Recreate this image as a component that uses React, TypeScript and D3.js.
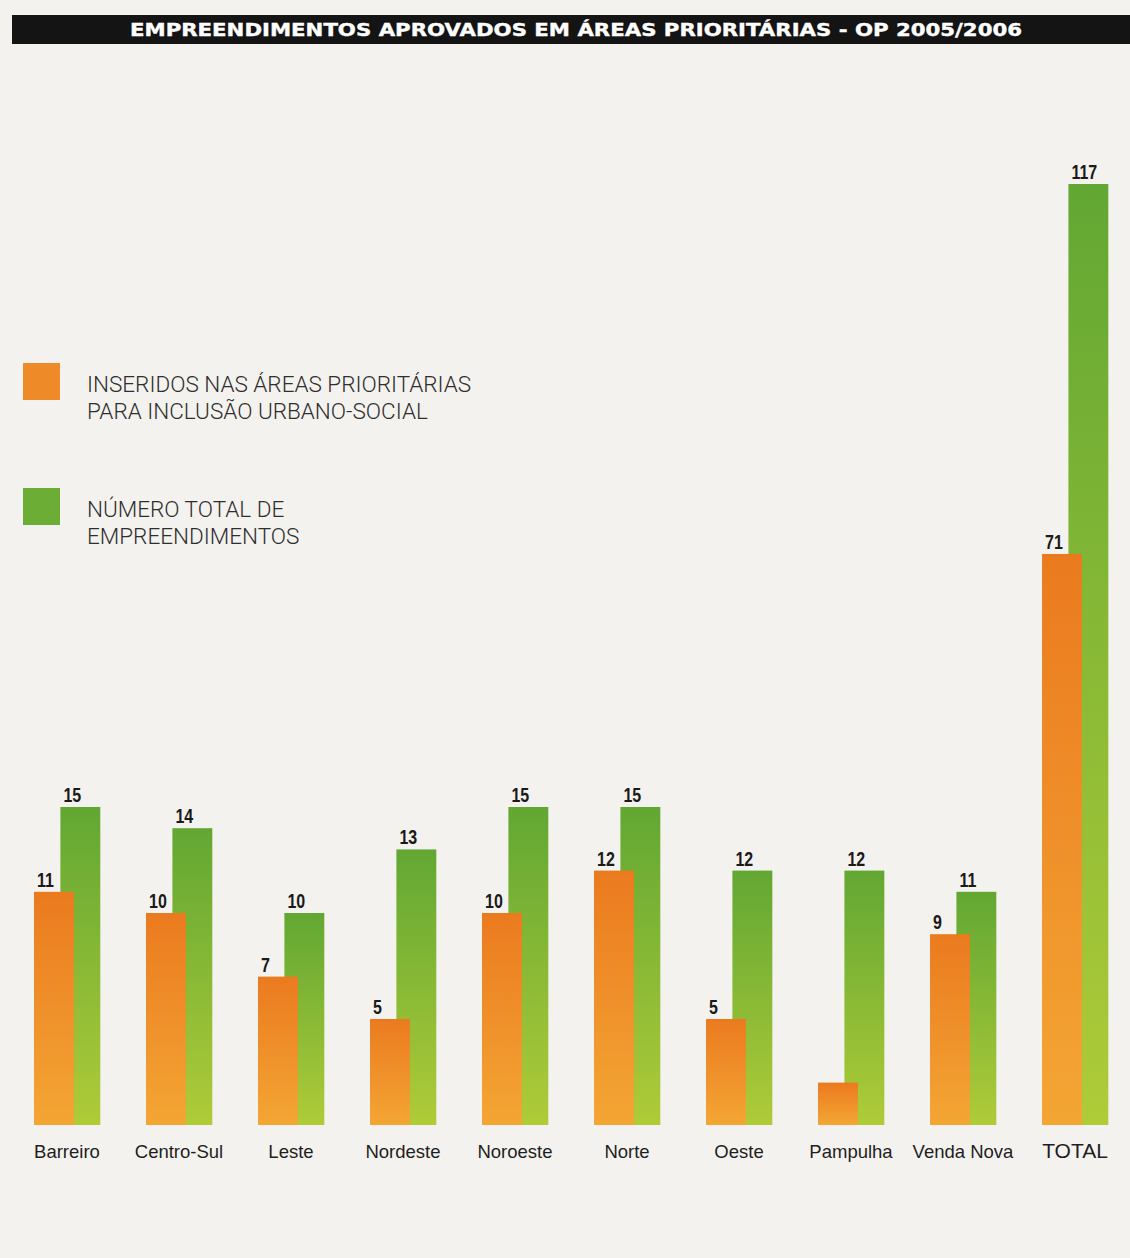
import React from "react";
import * as d3 from "d3";

const title = "EMPREENDIMENTOS APROVADOS EM ÁREAS PRIORITÁRIAS - OP 2005/2006";
const categories = ["Barreiro", "Centro-Sul", "Leste", "Nordeste", "Noroeste", "Norte", "Oeste", "Pampulha", "Venda Nova", "TOTAL"];
const prioritarias = [11, 10, 7, 5, 10, 12, 5, 2, 9, 71];
const totais = [15, 14, 10, 13, 15, 15, 12, 12, 11, 117];
const unlabeledPrioritarias = ["Pampulha"];
const legendItems = [
  { key: "orange", lines: ["INSERIDOS NAS ÁREAS PRIORITÁRIAS", "PARA INCLUSÃO URBANO-SOCIAL"] },
  { key: "green", lines: ["NÚMERO TOTAL DE", "EMPREENDIMENTOS"] },
];

const W = 1130;
const H = 1258;
const BASE = 1125;

export default function App() {
  const x = d3.scaleBand<string>().domain(categories).range([34, 1108]).paddingInner(0.411).paddingOuter(0);
  const bw = x.bandwidth();
  const yR = d3.scaleLinear().domain([0, 15]).range([BASE, 807]);
  const yT = d3.scaleLinear().domain([0, 117]).range([BASE, 184]);
  const yFor = (c: string) => (c === "TOTAL" ? yT : yR);
  const barW = bw * 0.605;
  const greenOff = bw * 0.4;
  const labelFont = "'Liberation Sans', Arial, sans-serif";

  const valueLabel = (lx: number, ly: number, v: number) => (
    <text
      transform={`translate(${lx},${ly}) scale(0.8,1)`}
      x={0}
      y={0}
      fontFamily={labelFont}
      fontWeight="bold"
      fontSize={20}
      fill="#1a1a1a"
    >
      {v}
    </text>
  );

  return (
    <svg width={W} height={H} style={{ position: "absolute", left: 0, top: 0, display: "block" }}>
      <defs>
        <linearGradient id="gOrange" x1="0" y1="0" x2="0" y2="1">
          <stop offset="0" stopColor="#eb7a1f" />
          <stop offset="1" stopColor="#f3a634" />
        </linearGradient>
        <linearGradient id="gGreen" x1="0" y1="0" x2="0" y2="1">
          <stop offset="0" stopColor="#62a733" />
          <stop offset="1" stopColor="#afcb38" />
        </linearGradient>
      </defs>
      <rect x={0} y={0} width={W} height={H} fill="#f4f2ee" />
      <rect x={12} y={15} width={W - 12} height={29} fill="#141414" />
      <text
        x={576}
        y={36}
        textAnchor="middle"
        fill="#ffffff"
        fontFamily="'DejaVu Sans', sans-serif"
        fontWeight="bold"
        fontSize={17.5}
        textLength={892}
        lengthAdjust="spacingAndGlyphs"
        stroke="#ffffff"
        strokeWidth={0.4}
      >
        {title}
      </text>

      {legendItems.map((it, i) => {
        const top = 363 + i * 125;
        return (
          <g key={it.key}>
            <rect x={23} y={top} width={37} height={37} fill={it.key === "orange" ? "#ee8a28" : "#6cad36"} />
            {it.lines.map((ln, j) => (
              <text
                key={j}
                x={87}
                y={top + 29 + j * 27}
                fill="#2e2e2e"
                fontFamily="Roboto, 'Liberation Sans', Arial, sans-serif"
                fontWeight={300}
                fontSize={22.5}
              >
                {ln}
              </text>
            ))}
          </g>
        );
      })}

      {categories.map((c, i) => {
        const x0 = x(c) as number;
        const y = yFor(c);
        const ov = prioritarias[i];
        const gv = totais[i];
        return (
          <g key={c}>
            <rect x={x0 + greenOff} y={y(gv)} width={barW} height={BASE - y(gv)} fill="url(#gGreen)" />
            <rect x={x0} y={y(ov)} width={barW} height={BASE - y(ov)} fill="url(#gOrange)" />
            {valueLabel(x0 + greenOff + 3, y(gv) - 5, gv)}
            {!unlabeledPrioritarias.includes(c) && valueLabel(x0 + 3, y(ov) - 5, ov)}
            <text
              x={x0 + bw / 2}
              y={1158}
              textAnchor="middle"
              fontFamily="'Liberation Sans', Arial, sans-serif"
              fontSize={c === "TOTAL" ? 21 : 18.5}
              fill="#1e1e1e"
            >
              {c}
            </text>
          </g>
        );
      })}
    </svg>
  );
}
